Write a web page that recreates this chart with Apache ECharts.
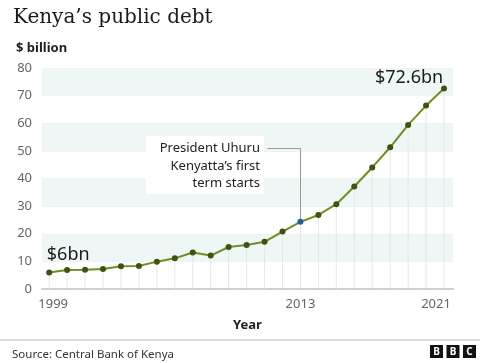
<!DOCTYPE html>
<html>
<head>
<meta charset="utf-8">
<script src="https://cdn.jsdelivr.net/npm/echarts@6/dist/echarts.min.js"></script>
<style>html,body{margin:0;padding:0;background:#fff}#c{width:480px;height:363px}</style>
</head>
<body>
<div id="c"></div>
<script>
const years = [1999,2000,2001,2002,2003,2004,2005,2006,2007,2008,2009,2010,2011,2012,2013,2014,2015,2016,2017,2018,2019,2020,2021];
const debt = [6.0,6.9,7.0,7.2,8.2,8.3,9.9,11.1,13.2,12.1,15.2,15.9,17.1,20.8,24.3,26.8,30.7,37.1,44.0,51.3,59.4,66.4,72.6];
const xTickLabels = [1999,2013,2021];
const highlightYear = 2013;
const annotationLines = ['President Uhuru','Kenyatta\u2019s first','term starts'];

const sans = '"Noto Sans", "Open Sans", sans-serif';
const pts = years.map((y,i)=>[y,debt[i]]);
const hi = years.indexOf(highlightYear);

const chart = echarts.init(document.getElementById('c'));
chart.setOption({
  animation:false,
  grid:{left:42,right:27,top:68,bottom:74},
  title:[
    {text:'Kenya\u2019s public debt',left:8,top:3,textStyle:{fontFamily:'"DejaVu Serif", serif',fontSize:20,fontWeight:'normal',color:'#1a1a1a'}},
    {text:'$ billion',left:11,top:37,textStyle:{fontFamily:sans,fontSize:13,fontWeight:'bold',color:'#222'}},
    {text:'Source: Central Bank of Kenya',left:7,top:344,textStyle:{fontFamily:sans,fontSize:11.5,fontWeight:'normal',color:'#333'}}
  ],
  xAxis:{
    type:'value',min:1998.6,max:2021.5,
    name:'Year',nameLocation:'middle',nameGap:30,
    nameTextStyle:{fontFamily:sans,fontSize:13,fontWeight:'bold',color:'#222'},
    axisLine:{show:true,lineStyle:{color:'#d0d0d0',width:2}},
    axisTick:{show:false},
    splitLine:{show:false},
    axisLabel:{
      customValues:xTickLabels,
      fontFamily:sans,fontSize:13,color:'#666',margin:9,
      formatter:v=>v===1999?'{l|1999}':(v===2021?'{r|2021}':String(v)),
      rich:{l:{padding:[0,0,0,8],fontFamily:sans,fontSize:13,color:'#666'},r:{padding:[0,16,0,0],fontFamily:sans,fontSize:13,color:'#666'}}
    }
  },
  yAxis:{
    type:'value',min:0,max:80,interval:10,
    axisLine:{show:false},axisTick:{show:false},
    axisLabel:{fontFamily:sans,fontSize:13,color:'#666',margin:10},
    splitLine:{show:true,lineStyle:{color:'#eef3f3',width:1}},
    splitArea:{show:true,areaStyle:{color:['rgba(255,255,255,0)','#eef6f6']}}
  },
  series:[
    {
      type:'bar',data:pts,barWidth:1,silent:true,
      itemStyle:{color:'#e6e6e6'},z:1
    },
    {
      type:'line',data:pts,symbol:'circle',symbolSize:6,
      lineStyle:{color:'#6f8f24',width:2},
      itemStyle:{color:(p)=>p.dataIndex===hi?'#1f6391':'#3f5212'},
      z:5,
      label:{show:true,fontFamily:sans,fontSize:18,color:'#1a1a1a',
        formatter:(p)=>p.dataIndex===0?'$6bn':(p.dataIndex===years.length-1?'$72.6bn':''),
        position:'top'},
      labelLayout:(p)=>{
        if(p.dataIndex===0) return {dx:19,dy:-1};
        if(p.dataIndex===years.length-1) return {dx:-35,dy:6};
        return {};
      },
      markLine:{
        silent:true,symbol:'none',
        lineStyle:{color:'#9a9a9a',width:1,type:'solid'},
        label:{show:false},
        data:[
          [{coord:[highlightYear-1.85,51]},{coord:[highlightYear,51]}],
          [{coord:[highlightYear,51]},{coord:[highlightYear,debt[hi]]}]
        ]
      }
    }
  ],
  graphic:[
    {type:'rect',shape:{x:146,y:136,width:118,height:58},style:{fill:'#fff'},z:9},
    {type:'text',x:260,y:140,z:10,style:{text:annotationLines.join('\n'),fontFamily:sans,fontSize:13,fill:'#222',align:'right',verticalAlign:'top',lineHeight:17.5}},
    {type:'line',shape:{x1:0,y1:340,x2:480,y2:340},style:{stroke:'#bbb',lineWidth:1}},
    {type:'group',left:430,top:345,children:[
      {type:'rect',shape:{x:0,y:0,width:13,height:13},style:{fill:'#111'}},
      {type:'rect',shape:{x:16.5,y:0,width:13,height:13},style:{fill:'#111'}},
      {type:'rect',shape:{x:33,y:0,width:13,height:13},style:{fill:'#111'}},
      {type:'text',x:6.5,y:6.8,style:{text:'B',fill:'#fff',fontFamily:sans,fontWeight:'bold',fontSize:10,align:'center',verticalAlign:'middle'}},
      {type:'text',x:23,y:6.8,style:{text:'B',fill:'#fff',fontFamily:sans,fontWeight:'bold',fontSize:10,align:'center',verticalAlign:'middle'}},
      {type:'text',x:39.5,y:6.8,style:{text:'C',fill:'#fff',fontFamily:sans,fontWeight:'bold',fontSize:10,align:'center',verticalAlign:'middle'}}
    ]}
  ]
});
</script>
</body>
</html>
